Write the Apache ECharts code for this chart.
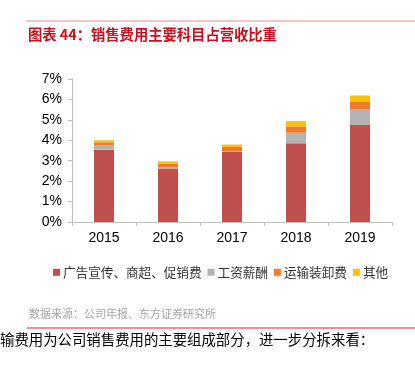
<!DOCTYPE html>
<html><head><meta charset="utf-8">
<script src="https://cdn.jsdelivr.net/npm/echarts@6/dist/echarts.min.js"></script>
<style>html,body{margin:0;padding:0;background:#fff}#c{width:415px;height:366px}</style>
</head><body><div id="c"></div>
<script>
const categories = ['2015','2016','2017','2018','2019'];
const seriesNames = ['广告宣传、商超、促销费','工资薪酬','运输装卸费','其他'];
const adPromo = [3.54, 2.62, 3.43, 3.85, 4.75];
const salary = [0.20, 0.07, 0.02, 0.52, 0.75];
const transport = [0.16, 0.18, 0.22, 0.31, 0.41];
const other = [0.10, 0.10, 0.12, 0.26, 0.28];
const colors = ['#C0504D','#B3B3B3','#ED7D31','#FFC000'];
const titleText = '图表 44：销售费用主要科目占营收比重';
const sourceText = '数据来源：公司年报、东方证券研究所';
const bodyText = '输费用为公司销售费用的主要组成部分，进一步分拆来看：';

const chart = echarts.init(document.getElementById('c'), null, {renderer:'canvas'});
const values = [adPromo, salary, transport, other];
const font = '"Liberation Sans", Arial, sans-serif';
const cjk = '"Noto Sans CJK SC", sans-serif';
chart.setOption({
  animation: false,
  grid: {left: 72, right: 23, top: 79, bottom: 144},
  legend: {
    data: seriesNames, left: 48, top: 261, icon: 'rect', itemWidth: 7, itemHeight: 7, itemGap: 6,
    textStyle: {fontFamily: cjk, fontSize: 12.6, color: '#333', padding: [0,0,0,-2]}
  },
  xAxis: {
    type: 'category', data: categories,
    axisLine: {lineStyle: {color: '#BFBFBF'}},
    axisTick: {show: true, length: 4, lineStyle: {color: '#BFBFBF'}},
    axisLabel: {fontFamily: font, fontSize: 14, color: '#000', margin: 9}
  },
  yAxis: {
    type: 'value', min: 0, max: 7, interval: 1,
    axisLine: {show: true, lineStyle: {color: '#BFBFBF'}},
    axisTick: {show: true, length: 4, lineStyle: {color: '#BFBFBF'}},
    splitLine: {show: false},
    axisLabel: {fontFamily: font, fontSize: 14, color: '#000', margin: 10, formatter: v => v + '%'}
  },
  series: seriesNames.map((n, i) => ({
    name: n, type: 'bar', stack: 'a', data: values[i], barWidth: 20,
    itemStyle: {color: colors[i]}
  })),
  graphic: [
    {type: 'line', shape: {x1: 26, y1: 21, x2: 415, y2: 21}, style: {stroke: '#E88C8C', lineWidth: 1}},
    {type: 'text', left: 28, top: 27, style: {text: titleText, fill: '#C8101E', font: 'bold 14.3px "Noto Sans CJK SC", sans-serif'}},
    {type: 'text', left: 29, top: 308, style: {text: sourceText, fill: '#A6A6A6', font: '11px "Noto Sans CJK SC", sans-serif'}},
    {type: 'line', shape: {x1: 27, y1: 328, x2: 415, y2: 328}, style: {stroke: '#D9262B', lineWidth: 1}},
    {type: 'text', left: 0, top: 332, style: {text: bodyText, fill: '#000', font: '14.4px "Noto Sans CJK SC", sans-serif'}}
  ]
});
</script></body></html>
